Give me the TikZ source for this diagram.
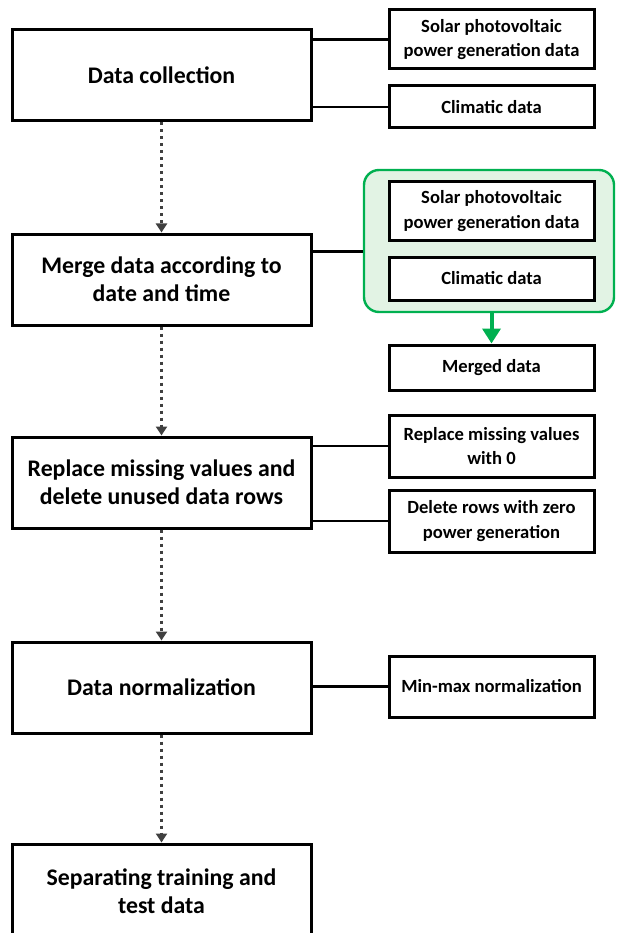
\documentclass[tikz,border=0pt]{standalone}
\usepackage{fontspec}
\setmainfont{Carlito}
\usetikzlibrary{arrows.meta,calc}
\definecolor{grn}{RGB}{0,176,80}
\definecolor{grnfill}{RGB}{226,243,228}
\definecolor{dotgray}{RGB}{64,64,64}
\begin{document}
\begin{tikzpicture}[x=1pt,y=-1pt,
  mainbox/.style={draw=black,line width=3pt,fill=white,minimum width=299pt,minimum height=91pt,inner sep=0pt,align=center,font=\fontsize{23.8}{28}\selectfont\bfseries},
  subbox/.style={draw=black,line width=3pt,fill=white,minimum width=205pt,inner sep=0pt,align=center,font=\fontsize{18.6}{24.5}\selectfont\bfseries},
  link/.style={draw=black,line width=2.5pt},
  flow/.style={draw=dotgray,line width=3pt,dash pattern=on 3pt off 4pt,-{Triangle[width=11pt,length=9pt]}},
  greenarrow/.style={draw=grn,line width=4pt,-{Triangle[width=18pt,length=15pt]}}
  ]
\useasboundingbox (0,0) rectangle (616,933);
% main column
\node[mainbox] (dc) at (161.5,75.5) {Data collection};
\node[mainbox] (merge) at (161.5,279.5) {Merge data according to\\date and time};
\node[mainbox] (repl) at (161.5,482.5) {Replace missing values and\\delete unused data rows};
\node[mainbox] (norm) at (161.5,687.5) {Data normalization};
\node[mainbox,minimum height=94pt] (sep) at (161.5,891) {Separating training and\\test data};
% right column
\node[subbox,minimum height=59pt] (solar1) at (491.5,39.5) {Solar photovoltaic\\power generation data};
\node[subbox,minimum height=42pt] (clim1) at (491.5,107) {Climatic data};
\node[draw=grn,line width=2.4pt,fill=grnfill,rounded corners=15pt,minimum width=250pt,minimum height=142pt] (grp) at (489,241) {};
\node[subbox,minimum height=58pt] (solar2) at (491.5,211) {Solar photovoltaic\\power generation data};
\node[subbox,minimum height=43pt] (clim2) at (491.5,278.5) {Climatic data};
\node[subbox,minimum height=45pt] (merged) at (491.5,367.5) {Merged data};
\node[subbox,minimum height=62pt] (rmv) at (491.5,446) {Replace missing values\\with 0};
\node[subbox,minimum height=62pt] (del) at (491.5,521) {Delete rows with zero\\power generation};
\node[subbox,minimum height=61pt] (mm) at (491.5,686.5) {Min-max normalization};
% connectors
\draw[link] (dc.east |- solar1.west) -- (solar1.west);
\draw[link] (dc.east |- clim1.west) -- (clim1.west);
\coordinate (mj) at ($(merge.north east)!0.2!(merge.south east)$);
\draw[link] (mj) -- (grp.west |- mj);
\draw[link] (repl.east |- rmv.west) -- (rmv.west);
\draw[link] (repl.east |- del.west) -- (del.west);
\draw[link] (norm.east |- mm.west) -- (mm.west);
\draw[greenarrow] (grp.south -| merged.north) -- (merged.north);
% flow
\draw[flow] (dc.south) -- (merge.north);
\draw[flow] (merge.south) -- (repl.north);
\draw[flow] (repl.south) -- (norm.north);
\draw[flow] (norm.south) -- (sep.north);
\end{tikzpicture}
\end{document}
